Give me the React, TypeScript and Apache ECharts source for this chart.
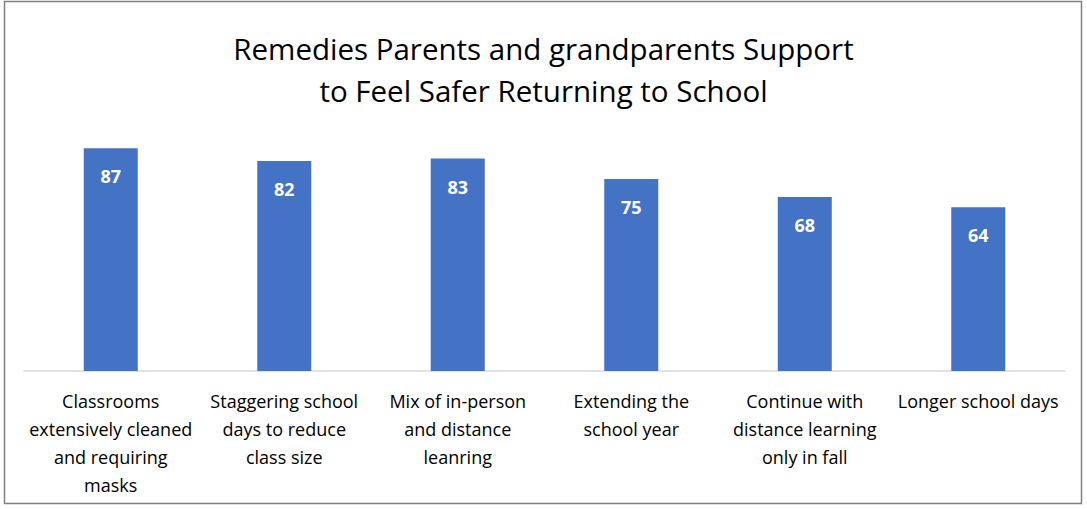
import React, { useEffect, useRef } from "react";
import * as echarts from "echarts";

const categories = [
  "Classrooms\nextensively cleaned\nand requiring\nmasks",
  "Staggering school\ndays to reduce\nclass size",
  "Mix of in-person\nand distance\nleanring",
  "Extending the\nschool year",
  "Continue with\ndistance learning\nonly in fall",
  "Longer school days",
];
const values = [87, 82, 83, 75, 68, 64];
const titleLines = [
  "Remedies Parents and grandparents Support",
  "to Feel Safer Returning to School",
];

export default function App() {
  const ref = useRef<HTMLDivElement>(null);
  useEffect(() => {
    const chart = echarts.init(ref.current!, null, { renderer: "svg" });
    const font = "'Open Sans', 'Noto Sans', sans-serif";
    chart.setOption({
      animation: false,
      backgroundColor: "#ffffff",
      title: {
        text: titleLines.join("\n"),
        left: "center",
        top: 22,
        textStyle: {
          fontFamily: font,
          fontSize: 29.5,
          fontWeight: "normal",
          color: "#000000",
          lineHeight: 42,
        },
      },
      graphic: [
        {
          type: "rect",
          shape: { x: 4.5, y: 1.5, width: 1077, height: 502 },
          style: { fill: "none", stroke: "#808080", lineWidth: 1.5 },
          silent: true,
        },
      ],
      grid: { left: 24, right: 22, top: 115, bottom: 138 },
      xAxis: {
        type: "category",
        data: categories,
        axisLine: { lineStyle: { color: "#d9d9d9", width: 1.5 } },
        axisTick: { show: false },
        axisLabel: {
          interval: 0,
          color: "#000000",
          fontFamily: font,
          fontSize: 18,
          lineHeight: 28,
          margin: 16,
        },
      },
      yAxis: {
        type: "value",
        min: 0,
        max: 100,
        show: false,
        splitLine: { show: false },
      },
      series: [
        {
          type: "bar",
          data: values,
          barWidth: 54,
          itemStyle: { color: "#4472c4" },
          label: {
            show: true,
            position: "insideTop",
            distance: 19,
            color: "#ffffff",
            fontWeight: "bold",
            fontFamily: font,
            fontSize: 18,
          },
        },
      ],
    });
    return () => chart.dispose();
  }, []);
  return (
    <div
      ref={ref}
      style={{ position: "fixed", left: 0, top: 0, width: 1087, height: 509 }}
    />
  );
}
